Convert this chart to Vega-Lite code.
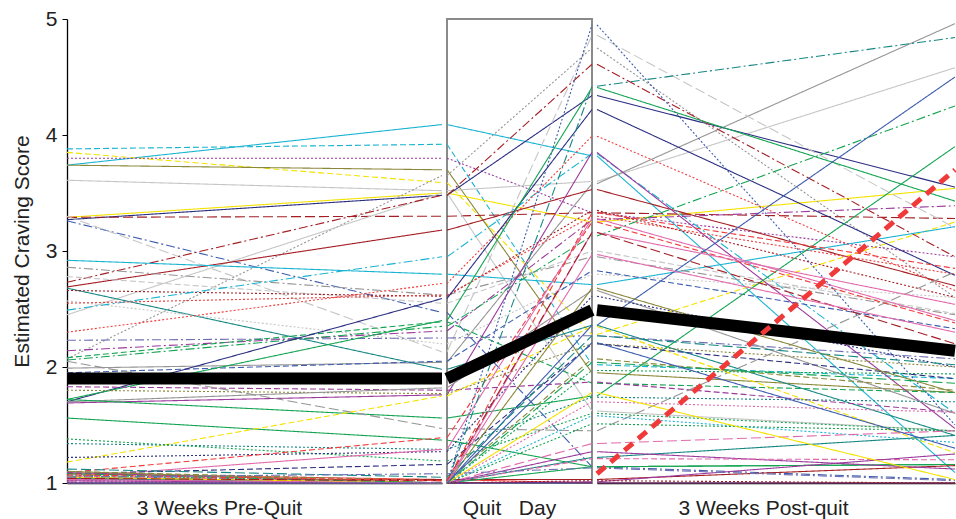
{
  "$schema": "https://vega.github.io/schema/vega-lite/v6.json",
  "padding": {"left": 11, "top": 8, "right": 0, "bottom": 0},
  "background": "white",
  "bounds": "flush",
  "spacing": 5,
  "config": {"font": "Liberation Sans", "view": {"stroke": null}},
  "resolve": {"scale": {"color": "shared", "strokeDash": "shared"}},
  "datasets": {
    "subjects": [
      {"s":"S01","a":3.74,"b":4.09,"c":3.82,"d":1.09},
      {"s":"S02","a":3.88,"b":3.92,"c":2.02,"d":1.90},
      {"s":"S03","a":3.85,"b":3.59,"c":2.28,"d":3.25},
      {"s":"S04","a":3.80,"b":3.80,"c":3.33,"d":2.95},
      {"s":"S05","a":3.74,"b":3.70,"c":1.95,"d":1.78},
      {"s":"S06","a":3.61,"b":3.52,"c":3.60,"d":4.58},
      {"s":"S07","a":1.99,"b":2.04,"c":3.58,"d":4.96},
      {"s":"S08","a":3.29,"b":3.50,"c":3.25,"d":3.54},
      {"s":"S09","a":3.27,"b":3.48,"c":4.34,"d":3.55},
      {"s":"S10","a":3.29,"b":3.30,"c":3.33,"d":3.28},
      {"s":"S11","a":3.26,"b":2.47,"c":1.14,"d":1.03},
      {"s":"S12","a":3.30,"b":2.13,"c":4.86,"d":3.20},
      {"s":"S13","a":2.07,"b":3.65,"c":4.75,"d":2.60},
      {"s":"S14","a":2.45,"b":3.50,"c":1.62,"d":1.45},
      {"s":"S15","a":2.73,"b":3.48,"c":4.61,"d":2.95},
      {"s":"S16","a":2.69,"b":3.18,"c":3.53,"d":2.70},
      {"s":"S17","a":2.92,"b":2.80,"c":2.71,"d":3.21},
      {"s":"S18","a":2.86,"b":2.62,"c":2.95,"d":2.45},
      {"s":"S19","a":2.78,"b":2.55,"c":3.00,"d":2.46},
      {"s":"S20","a":2.68,"b":1.98,"c":2.36,"d":1.41},
      {"s":"S21","a":2.66,"b":2.61,"c":3.35,"d":2.60},
      {"s":"S22","a":2.49,"b":2.95,"c":3.84,"d":1.60},
      {"s":"S23","a":2.57,"b":2.20,"c":2.80,"d":2.60},
      {"s":"S24","a":2.30,"b":2.72,"c":3.99,"d":2.66},
      {"s":"S25","a":2.55,"b":2.62,"c":3.30,"d":2.80},
      {"s":"S26","a":2.23,"b":2.25,"c":2.27,"d":2.07},
      {"s":"S27","a":2.14,"b":2.31,"c":3.27,"d":3.39},
      {"s":"S28","a":2.06,"b":2.35,"c":3.13,"d":4.25},
      {"s":"S29","a":2.08,"b":2.39,"c":1.86,"d":1.78},
      {"s":"S30","a":1.95,"b":2.05,"c":2.83,"d":2.33},
      {"s":"S31","a":1.70,"b":2.59,"c":4.22,"d":2.79},
      {"s":"S32","a":1.72,"b":2.40,"c":4.41,"d":3.43},
      {"s":"S33","a":1.69,"b":1.76,"c":3.85,"d":1.47},
      {"s":"S34","a":1.80,"b":1.77,"c":2.20,"d":2.00},
      {"s":"S35","a":1.83,"b":1.80,"c":1.87,"d":1.61},
      {"s":"S36","a":1.70,"b":1.82,"c":2.66,"d":1.60},
      {"s":"S37","a":1.72,"b":1.56,"c":1.75,"d":3.90},
      {"s":"S38","a":1.56,"b":1.37,"c":1.14,"d":1.16},
      {"s":"S39","a":2.05,"b":1.47,"c":1.45,"d":2.82},
      {"s":"S40","a":1.18,"b":1.75,"c":2.35,"d":1.26},
      {"s":"S41","a":1.38,"b":1.19,"c":1.60,"d":1.45},
      {"s":"S42","a":1.34,"b":1.29,"c":1.74,"d":1.70},
      {"s":"S43","a":1.22,"b":1.27,"c":2.61,"d":2.00},
      {"s":"S44","a":1.09,"b":1.39,"c":3.25,"d":2.38},
      {"s":"S45","a":1.05,"b":1.29,"c":3.28,"d":2.40},
      {"s":"S46","a":1.08,"b":1.16,"c":2.20,"d":1.90},
      {"s":"S47","a":1.08,"b":1.03,"c":1.00,"d":1.00},
      {"s":"S48","a":1.03,"b":1.03,"c":1.03,"d":1.15},
      {"s":"S49","a":1.05,"b":1.00,"c":1.14,"d":1.16},
      {"s":"S50","a":1.10,"b":1.02,"c":2.07,"d":1.80},
      {"s":"S51","a":1.04,"b":1.00,"c":2.36,"d":4.50},
      {"s":"S52","a":1.06,"b":1.00,"c":4.42,"d":4.84},
      {"s":"S53","a":1.02,"b":1.00,"c":4.95,"d":1.50},
      {"s":"S54","a":1.02,"b":1.00,"c":1.70,"d":1.61},
      {"s":"S55","a":1.03,"b":1.00,"c":1.58,"d":1.35},
      {"s":"S56","a":1.07,"b":1.00,"c":1.51,"d":1.45},
      {"s":"S57","a":1.05,"b":1.00,"c":1.97,"d":1.94},
      {"s":"S58","a":1.01,"b":1.00,"c":1.34,"d":1.45},
      {"s":"S59","a":1.04,"b":1.00,"c":1.22,"d":1.41},
      {"s":"S60","a":1.09,"b":1.00,"c":1.27,"d":1.12},
      {"s":"S61","a":1.06,"b":1.00,"c":1.21,"d":1.20},
      {"s":"S62","a":1.02,"b":1.00,"c":1.01,"d":1.25},
      {"s":"S63","a":1.00,"b":1.00,"c":1.00,"d":1.00},
      {"s":"S64","a":1.10,"b":1.00,"c":2.68,"d":1.78},
      {"s":"S65","a":1.00,"b":1.00,"c":3.16,"d":2.54},
      {"s":"S66","a":1.05,"b":1.00,"c":1.78,"d":1.03},
      {"s":"S67","a":1.08,"b":1.00,"c":2.04,"d":1.86},
      {"s":"S68","a":1.04,"b":1.02,"c":3.16,"d":2.20},
      {"s":"S69","a":1.07,"b":1.02,"c":3.33,"d":2.85},
      {"s":"S70","a":1.12,"b":1.05,"c":2.27,"d":2.02},
      {"s":"S71","a":1.00,"b":1.00,"c":1.02,"d":1.00},
      {"s":"S72","a":1.05,"b":1.08,"c":1.13,"d":1.02},
      {"s":"S73","a":1.03,"b":1.00,"c":2.97,"d":2.30},
      {"s":"S74","a":1.00,"b":1.00,"c":2.21,"d":1.30}
    ],
    "mean": [{"a":1.9,"b":1.9,"c":2.49,"d":2.14}],
    "trend": [{"c":1.08,"d":3.7}]
  },
  "hconcat": [
    {
      "width": 375, "height": 464,
      "layer": [
        {
          "data": {"name": "subjects"},
          "transform": [{"fold": ["a","b"]}],
          "mark": {"type": "line", "strokeWidth": 1.1, "strokeCap": "butt"},
          "encoding": {
            "x": {"field": "key", "type": "nominal", "scale": {"type": "point", "domain": ["a","b"], "padding": 0},
                  "axis": {"labels": false, "ticks": false, "domainColor": "#000", "domainWidth": 1.3, "title": "3 Weeks Pre-Quit", "titleFontSize": 21, "titleFontWeight": "normal", "titleColor": "#222", "titlePadding": 14, "titleX": 152}},
            "y": {"field": "value", "type": "quantitative", "scale": {"domain": [1,5], "nice": false, "zero": false},
                  "axis": {"values": [1,2,3,4,5], "format": "d", "grid": false, "title": "Estimated Craving Score", "titleFontSize": 21, "titleFontWeight": "normal", "titleColor": "#222", "titlePadding": 13, "labelFontSize": 21, "labelColor": "#222", "labelPadding": 5, "tickSize": 5, "tickColor": "#000", "domainColor": "#000", "domainWidth": 1.3}},
            "detail": {"field": "s"},
            "color": {"field": "s", "type": "nominal", "legend": null,
              "scale": {"domain": ["S01","S02","S03","S04","S05","S06","S07","S08","S09","S10","S11","S12","S13","S14","S15","S16","S17","S18","S19","S20","S21","S22","S23","S24","S25","S26","S27","S28","S29","S30","S31","S32","S33","S34","S35","S36","S37","S38","S39","S40","S41","S42","S43","S44","S45","S46","S47","S48","S49","S50","S51","S52","S53","S54","S55","S56","S57","S58","S59","S60","S61","S62","S63","S64","S65","S66","S67","S68","S69","S70","S71","S72","S73","S74"],
                "range": ["#1ab4d2","#1ab4d2","#f4e200","#9c3a9c","#8a883a","#c6c6c6","#959595","#f4e200","#2c2e82","#a41e24","#3c5cae","#c6c6c6","#959595","#c6c6c6","#a41e24","#a41e24","#1ab4d2","#959595","#c6c6c6","#168884","#a41e24","#1ab4d2","#c6c6c6","#f03c3c","#f03c3c","#6e6eb4","#9c3a9c","#14a452","#14a452","#3c5cae","#2c2e82","#14a452","#9c3a9c","#8a883a","#9c3a9c","#959595","#14a452","#14a452","#959595","#f4e200","#14a452","#168884","#2c2e82","#f03c3c","#e26aac","#2c2e82","#f03c3c","#a41e24","#14a452","#8a883a","#3c5cae","#168884","#3c5cae","#e26aac","#1ab4d2","#14a452","#14a452","#e26aac","#168884","#9c3a9c","#e26aac","#9c3a9c","#2c2e82","#8a883a","#e26aac","#f4e200","#14a452","#a41e24","#f03c3c","#168884","#a41e24","#6e6eb4","#e26aac","#3c5cae"]}},
            "strokeDash": {"field": "s", "type": "nominal", "legend": null,
              "scale": {"domain": ["S01","S02","S03","S04","S05","S06","S07","S08","S09","S10","S11","S12","S13","S14","S15","S16","S17","S18","S19","S20","S21","S22","S23","S24","S25","S26","S27","S28","S29","S30","S31","S32","S33","S34","S35","S36","S37","S38","S39","S40","S41","S42","S43","S44","S45","S46","S47","S48","S49","S50","S51","S52","S53","S54","S55","S56","S57","S58","S59","S60","S61","S62","S63","S64","S65","S66","S67","S68","S69","S70","S71","S72","S73","S74"],
                "range": [[1,0],[6,3],[6,3],[2,2],[1,0],[1,0],[1,0],[1,0],[1,0],[10,4],[9,3,2,3],[10,4],[2,2],[1,0],[9,3,2,3],[1,0],[1,0],[9,3,2,3],[6,3],[1,0],[2,2],[9,3,2,3],[2,2],[2,2],[2,2],[9,3,2,3],[9,3,2,3],[9,3,2,3],[6,3],[6,3],[1,0],[1,0],[1,0],[2,2],[6,3],[1,0],[1,0],[1,0],[10,4],[6,3],[2,2],[2,2],[2,2],[6,3],[1,0],[6,3],[1,0],[1,0],[1,0],[6,3],[1,0],[9,3,2,3],[2,2],[2,2],[2,2],[2,2],[2,2],[10,4],[1,0],[1,0],[6,3],[1,0],[1,0],[1,0],[1,0],[1,0],[10,4],[10,4],[6,3],[10,4],[2,2],[9,3,2,3],[1,0],[1,0]]}}
          }
        },
        {
          "data": {"name": "mean"},
          "transform": [{"fold": ["a","b"]}],
          "mark": {"type": "line", "color": "#000", "strokeWidth": 12, "strokeCap": "butt"},
          "encoding": {
            "x": {"field": "key", "type": "nominal"},
            "y": {"field": "value", "type": "quantitative"}
          }
        },
        {
          "mark": {"type": "rule", "color": "#000", "strokeWidth": 1.3},
          "encoding": {"y": {"datum": 5}}
        }
      ]
    },
    {
      "width": 145, "height": 464,
      "view": {"stroke": "#8a8a8a", "strokeWidth": 2},
      "layer": [
        {
          "data": {"name": "subjects"},
          "transform": [{"fold": ["b","c"]}],
          "mark": {"type": "line", "strokeWidth": 1.1, "strokeCap": "butt"},
          "encoding": {
            "x": {"field": "key", "type": "nominal", "scale": {"type": "point", "domain": ["b","c"], "padding": 0},
                  "axis": {"labels": false, "ticks": false, "domain": false, "title": "Quit\u00a0\u00a0\u00a0Day", "titleFontSize": 21, "titleFontWeight": "normal", "titleColor": "#222", "titlePadding": 14, "titleX": 62}},
            "y": {"field": "value", "type": "quantitative", "scale": {"domain": [1,5], "nice": false, "zero": false}, "axis": null},
            "detail": {"field": "s"},
            "color": {"field": "s", "type": "nominal", "legend": null},
            "strokeDash": {"field": "s", "type": "nominal", "legend": null}
          }
        },
        {
          "data": {"name": "mean"},
          "transform": [{"fold": ["b","c"]}],
          "mark": {"type": "line", "color": "#000", "strokeWidth": 12, "strokeCap": "butt"},
          "encoding": {
            "x": {"field": "key", "type": "nominal"},
            "y": {"field": "value", "type": "quantitative"}
          }
        }
      ]
    },
    {
      "width": 358, "height": 464,
      "layer": [
        {
          "data": {"name": "subjects"},
          "transform": [{"fold": ["c","d"]}],
          "mark": {"type": "line", "strokeWidth": 1.1, "strokeCap": "butt"},
          "encoding": {
            "x": {"field": "key", "type": "nominal", "scale": {"type": "point", "domain": ["c","d"], "padding": 0},
                  "axis": {"labels": false, "ticks": false, "domainColor": "#000", "domainWidth": 1.5, "title": "3 Weeks Post-quit", "titleFontSize": 21, "titleFontWeight": "normal", "titleColor": "#222", "titlePadding": 14, "titleX": 166}},
            "y": {"field": "value", "type": "quantitative", "scale": {"domain": [1,5], "nice": false, "zero": false}, "axis": null},
            "detail": {"field": "s"},
            "color": {"field": "s", "type": "nominal", "legend": null},
            "strokeDash": {"field": "s", "type": "nominal", "legend": null}
          }
        },
        {
          "data": {"name": "mean"},
          "transform": [{"fold": ["c","d"]}],
          "mark": {"type": "line", "color": "#000", "strokeWidth": 12, "strokeCap": "butt"},
          "encoding": {
            "x": {"field": "key", "type": "nominal"},
            "y": {"field": "value", "type": "quantitative"}
          }
        },
        {
          "data": {"name": "trend"},
          "transform": [{"fold": ["c","d"]}],
          "mark": {"type": "line", "color": "#f03a3a", "strokeWidth": 5, "strokeDash": [11,7], "strokeCap": "butt"},
          "encoding": {
            "x": {"field": "key", "type": "nominal"},
            "y": {"field": "value", "type": "quantitative"}
          }
        },
        {
          "mark": {"type": "rule", "color": "#6e6e6e", "strokeWidth": 1.5},
          "encoding": {"y": {"datum": 5}}
        }
      ]
    }
  ]
}
